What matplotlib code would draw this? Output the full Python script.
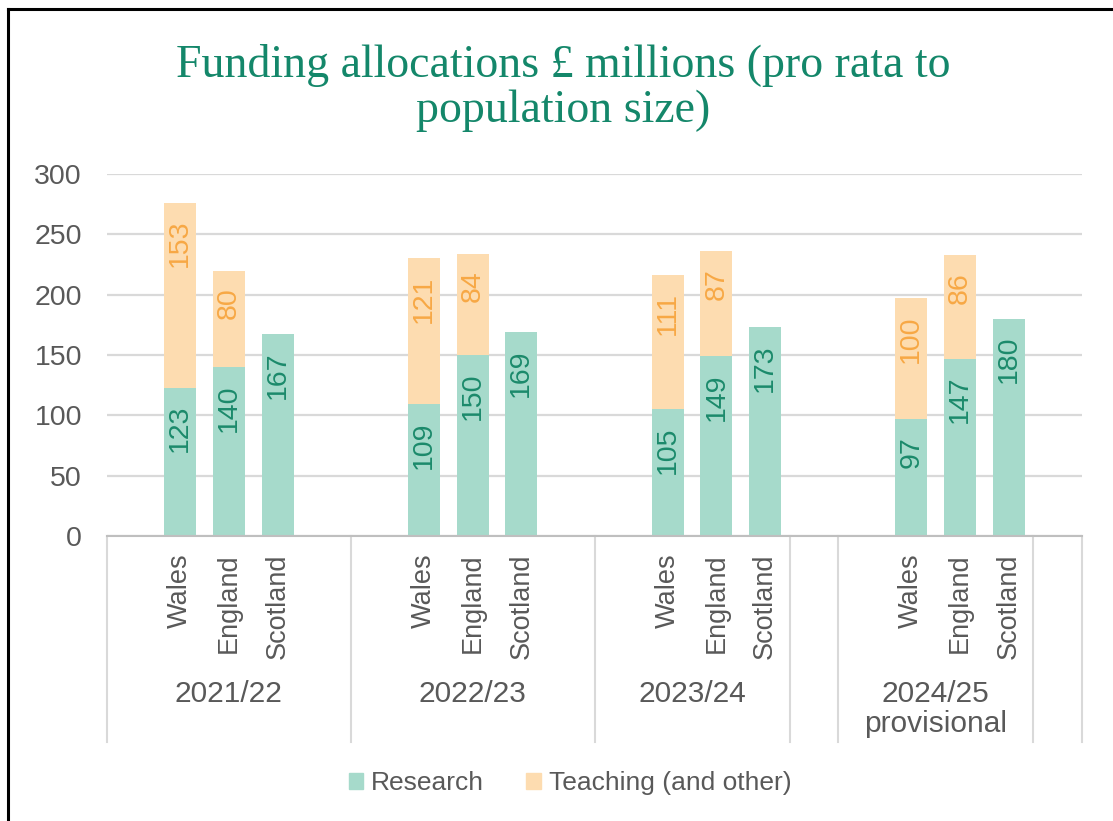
import numpy as np
import matplotlib
matplotlib.use('Agg')
import matplotlib.pyplot as plt
from matplotlib.lines import Line2D
from matplotlib.patches import Patch

# data
years = ['2021/22', '2022/23', '2023/24', '2024/25\nprovisional']
countries = ['Wales', 'England', 'Scotland']
research = [[123, 140, 167], [109, 150, 169], [105, 149, 173], [97, 147, 180]]
teaching = [[153, 80, 0], [121, 84, 0], [111, 87, 0], [100, 86, 0]]

# category layout as in the source sheet: blank rows pad each block
group_labels = ['2021/22', '2022/23', '2023/24', '', '2024/25\nprovisional', '']
group_slots = [5, 5, 4, 1, 4, 1]
year_group = [0, 1, 2, 4]   # which group each year sits in

GREEN = '#A6DACB'
ORANGE = '#FDDCB0'
GREEN_TXT = '#1B8A6B'
ORANGE_TXT = '#F7A845'
GRID = '#D9D9D9'
TXT = '#595959'

plt.rcParams['font.family'] = ['Liberation Sans', 'DejaVu Sans']

W, H = 1113, 821
fig = plt.figure(figsize=(W / 100, H / 100), dpi=100)
ax = fig.add_axes([107 / W, 1 - 536 / H, 975 / W, 362 / H])

starts = np.concatenate([[0], np.cumsum(group_slots)[:-1]])
edges = np.concatenate([[0], np.cumsum(group_slots)]) - 0.5

for yi, gi in enumerate(year_group):
    xs = starts[gi] + 1 + np.arange(len(countries))
    r = np.array(research[yi])
    t = np.array(teaching[yi])
    ax.bar(xs, r, width=0.66, color=GREEN, zorder=2)
    ax.bar(xs, t, bottom=r, width=0.66, color=ORANGE, zorder=2)
    for x, rv, tv in zip(xs, r, t):
        ax.annotate(str(rv), (x, rv), xytext=(0, -17), textcoords='offset pixels',
                    rotation=90, ha='center', va='top', fontsize=20.5, color=GREEN_TXT, zorder=3)
        if tv > 0:
            ax.annotate(str(tv), (x, rv + tv), xytext=(0, -17), textcoords='offset pixels',
                        rotation=90, ha='center', va='top', fontsize=20.5, color=ORANGE_TXT, zorder=3)
    for x, c in zip(xs, countries):
        ax.text(x, -0.048, c, transform=ax.get_xaxis_transform(), rotation=90,
                ha='center', va='top', fontsize=19.5, color=TXT)

for gi, lab in enumerate(group_labels):
    if lab:
        ax.text(starts[gi] + (group_slots[gi] - 1) / 2, -0.397, lab,
                transform=ax.get_xaxis_transform(), ha='center', va='top',
                fontsize=21.5, color=TXT, linespacing=1.12)

for e in edges:
    ax.add_line(Line2D([e, e], [0, -0.57], transform=ax.get_xaxis_transform(),
                       color=GRID, lw=1.5, clip_on=False))

ax.set_xlim(edges[0], edges[-1])
ax.set_ylim(0, 300)
ax.set_yticks(np.arange(0, 301, 50))
ax.set_xticks([])
ax.tick_params(axis='y', length=0, pad=18, labelsize=20.5, labelcolor=TXT)
ax.yaxis.grid(True, color=GRID, lw=1.6, zorder=0)
ax.set_axisbelow(True)
for s in ['top', 'right', 'left']:
    ax.spines[s].set_visible(False)
ax.spines['bottom'].set_color('#BFBFBF')
ax.spines['bottom'].set_linewidth(1.5)

fig.text(563 / W, 1 - 88 / H, 'Funding allocations £ millions (pro rata to\npopulation size)',
         ha='center', va='center', fontsize=33, color='#14876A',
         family=['Liberation Serif', 'DejaVu Serif'], linespacing=1.08)

handles = [Patch(color=GREEN, label='Research'), Patch(color=ORANGE, label='Teaching (and other)')]
fig.legend(handles=handles, loc='center', bbox_to_anchor=(570 / W, 1 - 783 / H), ncol=2,
           frameon=False, fontsize=19, handlelength=0.55, handleheight=0.55,
           handletextpad=0.3, columnspacing=1.6, labelcolor=TXT)

# screenshot frame (left and top edges)
fig.add_artist(Line2D([8 / W, 8 / W], [0, 1 - 9 / H], color='black', lw=2.2))
fig.add_artist(Line2D([8 / W, 1], [1 - 9 / H, 1 - 9 / H], color='black', lw=2.2))

fig.savefig('out.png', dpi=100)
